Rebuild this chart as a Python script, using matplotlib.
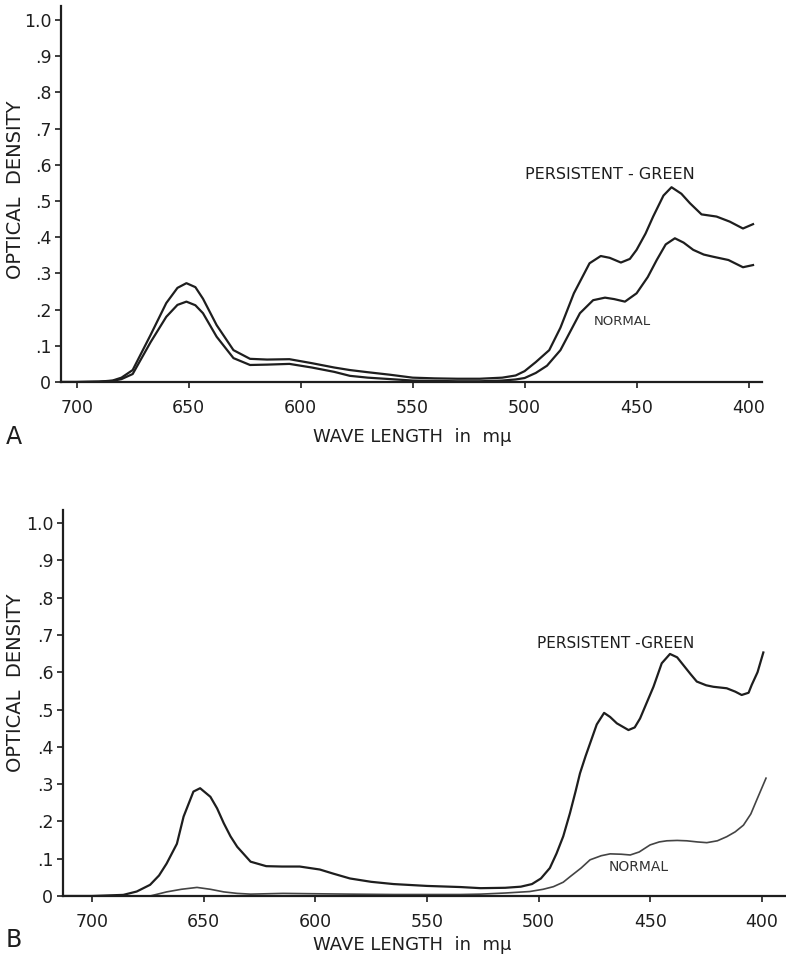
import matplotlib
matplotlib.use("Agg")
import matplotlib.pyplot as plt

# ---------------- data ----------------
# Panel A
wl_A_green = [707, 700, 690, 684, 680, 675, 667, 660, 655, 651, 647, 643.6, 637.5, 630, 622.6,
              615, 605, 595, 585, 578, 570, 560, 550, 540, 530, 520, 510, 504, 500, 495, 489,
              484, 478, 471, 466, 462, 457, 453, 450, 446, 442.6, 438, 434.4, 430, 426.2, 421,
              414.3, 408.4, 402.5, 398]
od_A_green = [0, 0, 0.001, 0.004, 0.012, 0.033, 0.13, 0.218, 0.26, 0.273, 0.262, 0.23, 0.157,
              0.088, 0.064, 0.062, 0.063, 0.052, 0.040, 0.033, 0.027, 0.02, 0.012, 0.01, 0.009,
              0.009, 0.012, 0.018, 0.03, 0.055, 0.088, 0.15, 0.245, 0.328, 0.348, 0.343, 0.33,
              0.34, 0.365, 0.41, 0.457, 0.515, 0.538, 0.52, 0.494, 0.463, 0.457, 0.443, 0.424, 0.436]

wl_A_normal = [707, 700, 690, 684, 680, 675, 667, 660, 655, 651, 647, 643.6, 637.5, 630, 622.6,
               615, 605, 595, 585, 578, 570, 560, 550, 540, 530, 520, 510, 504, 500, 495, 490,
               484, 475.3, 469.4, 464.1, 460, 455.2, 450, 445, 441, 437, 432.9, 429, 424.7, 420,
               415.8, 409, 402.5, 398]
od_A_normal = [0, 0, 0.001, 0.003, 0.008, 0.022, 0.11, 0.18, 0.213, 0.222, 0.212, 0.19, 0.125,
               0.066, 0.047, 0.048, 0.05, 0.04, 0.028, 0.017, 0.012, 0.008, 0.004, 0.003, 0.002,
               0.002, 0.004, 0.007, 0.011, 0.025, 0.045, 0.088, 0.19, 0.226, 0.233, 0.229, 0.222,
               0.245, 0.29, 0.337, 0.38, 0.397, 0.385, 0.365, 0.352, 0.346, 0.337, 0.317, 0.323]

# Panel B
wl_B_green = [712, 700, 686, 680, 674, 670, 666.6, 662, 659, 654.6, 651.6, 647, 644, 641, 638,
              635, 629, 622, 615, 607, 598, 592, 584.5, 575, 565, 550, 535, 526, 515, 508, 503,
              499, 495, 492, 489, 486, 483.5, 481.5, 479, 477, 474, 470.7, 468, 465, 459.8, 457,
              454.6, 451.5, 448.6, 444.9, 441.2, 438, 435.2, 432, 429.2, 425, 421.8, 415.8, 412,
              409.1, 406, 404.6, 402, 399.4]
od_B_green = [0, 0, 0.003, 0.012, 0.03, 0.055, 0.087, 0.14, 0.213, 0.28, 0.289, 0.266, 0.235,
              0.195, 0.16, 0.132, 0.092, 0.08, 0.079, 0.079, 0.071, 0.06, 0.047, 0.038, 0.032,
              0.027, 0.024, 0.021, 0.022, 0.025, 0.032, 0.047, 0.075, 0.114, 0.16, 0.222, 0.28,
              0.329, 0.375, 0.409, 0.46, 0.491, 0.48, 0.463, 0.445, 0.452, 0.476, 0.52, 0.561,
              0.624, 0.649, 0.64, 0.619, 0.595, 0.575, 0.565, 0.561, 0.557, 0.548, 0.539, 0.545,
              0.566, 0.6, 0.653]

wl_B_normal = [712, 700, 686, 674, 666.6, 660, 653, 647, 641, 635, 629, 614.5, 600, 584.5, 565,
               550, 535, 526, 515, 504, 498, 493.4, 489, 485.9, 481, 477, 472, 468, 463, 459,
               455, 450.1, 446, 442.6, 438, 433.7, 429, 424.7, 420, 415.8, 412, 408.3, 405,
               402.4, 398.2]
od_B_normal = [0, 0, 0, 0, 0.011, 0.018, 0.023, 0.018, 0.011, 0.007, 0.005, 0.007, 0.006, 0.005,
               0.004, 0.004, 0.004, 0.005, 0.008, 0.012, 0.018, 0.025, 0.037, 0.052, 0.075, 0.097,
               0.108, 0.113, 0.112, 0.11, 0.118, 0.137, 0.145, 0.148, 0.149, 0.148, 0.145, 0.143,
               0.148, 0.159, 0.172, 0.19, 0.22, 0.257, 0.316]

x_ticks = [700, 650, 600, 550, 500, 450, 400]
y_ticks = [0, 0.1, 0.2, 0.3, 0.4, 0.5, 0.6, 0.7, 0.8, 0.9, 1.0]
y_ticklabels = ["0", ".1", ".2", ".3", ".4", ".5", ".6", ".7", ".8", ".9", "1.0"]

# ---------------- figure ----------------
plt.rcParams['font.family'] = ['DejaVu Sans']
W, H = 786, 967
fig = plt.figure(figsize=(W / 100, H / 100), dpi=100)

ink = "#1e1e1e"


def make_axes(rect, xlim, ylim):
    ax = fig.add_axes(rect)
    ax.set_xlim(*xlim)
    ax.set_ylim(*ylim)
    for s in ("top", "right"):
        ax.spines[s].set_visible(False)
    for s in ("left", "bottom"):
        ax.spines[s].set_linewidth(1.6)
        ax.spines[s].set_color(ink)
    ax.set_xticks(x_ticks)
    ax.set_xticklabels([str(v) for v in x_ticks])
    ax.set_yticks(y_ticks)
    ax.set_yticklabels(y_ticklabels)
    ax.tick_params(axis="both", direction="out", length=4, width=1.2, color=ink,
                   labelsize=12.5, labelcolor=ink)
    ax.tick_params(axis="x", pad=8)
    ax.tick_params(axis="y", pad=3)
    ax.patch.set_alpha(0)
    return ax


# Panel A axes: pixel x 61..762, y 5.5..382
axA = make_axes([61 / W, 1 - 382 / H, (762 - 61) / W, (382 - 5.5) / H], (707, 394), (0, 1.04))
axA.plot(wl_A_green, od_A_green, color=ink, lw=1.6, solid_joinstyle="round")
axA.plot(wl_A_normal, od_A_normal, color=ink, lw=1.6, solid_joinstyle="round")
axA.text(499.9, 0.572, "PERSISTENT - GREEN", fontsize=11.5, color=ink, ha="left", va="center")
axA.text(469, 0.166, "NORMAL", fontsize=9.5, color="#333333", ha="left", va="center")

# Panel B axes: pixel x 63..785, y 510..896
axB = make_axes([63 / W, 1 - 896 / H, (785 - 63) / W, (896 - 510) / H], (713, 389.7), (0, 1.035))
axB.plot(wl_B_green, od_B_green, color=ink, lw=1.6, solid_joinstyle="round")
axB.plot(wl_B_normal, od_B_normal, color="#444444", lw=1.2, solid_joinstyle="round")
axB.text(500.7, 0.676, "PERSISTENT -GREEN", fontsize=11, color=ink, ha="left", va="center")
axB.text(468.9, 0.078, "NORMAL", fontsize=10, color="#333333", ha="left", va="center")

# Axis titles and panel letters
fig.text(16 / W, 1 - 190 / H, "OPTICAL  DENSITY", rotation=90, fontsize=14, color=ink,
         ha="center", va="center")
fig.text(16 / W, 1 - 683 / H, "OPTICAL  DENSITY", rotation=90, fontsize=14, color=ink,
         ha="center", va="center")
fig.text(412 / W, 1 - 437 / H, "WAVE LENGTH  in  m\u03bc", fontsize=13, color=ink,
         ha="center", va="center")
fig.text(412 / W, 1 - 945 / H, "WAVE LENGTH  in  m\u03bc", fontsize=13, color=ink,
         ha="center", va="center")
fig.text(14 / W, 1 - 437 / H, "A", fontsize=17, color=ink, ha="center", va="center")
fig.text(14 / W, 1 - 940 / H, "B", fontsize=17, color=ink, ha="center", va="center")

fig.savefig("out.png", dpi=100, facecolor="white")
